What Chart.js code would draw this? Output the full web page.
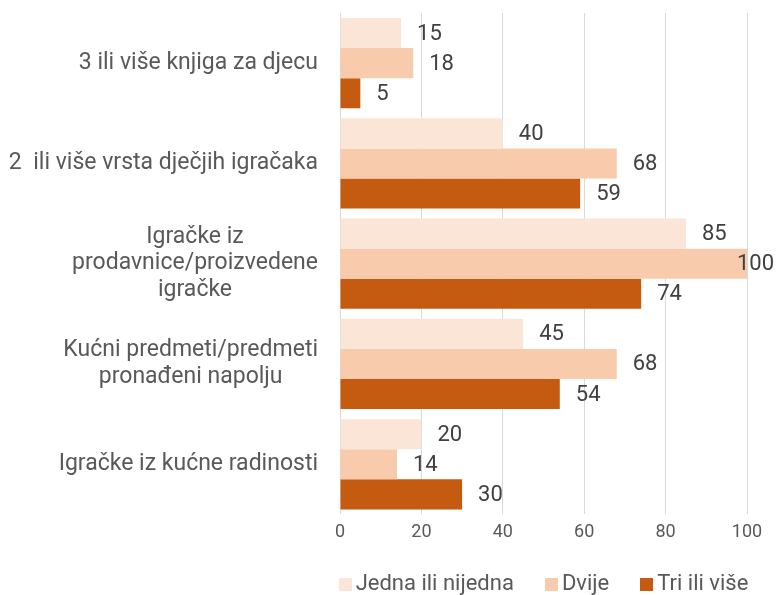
<!DOCTYPE html>
<html><head><meta charset="utf-8">
<script src="https://cdn.jsdelivr.net/npm/chart.js@4"></script>
<style>html,body{margin:0;padding:0;background:#fff}#w{width:779px;height:595px}</style>
</head><body><div id="w"><canvas id="c"></canvas></div>
<script>
const categories = [
  ["3 ili više knjiga za djecu"],
  ["2  ili više vrsta dječjih igračaka"],
  ["Igračke iz", "prodavnice/proizvedene", "igračke"],
  ["Kućni predmeti/predmeti", "pronađeni napolju"],
  ["Igračke iz kućne radinosti"]
];
const seriesNames = ["Jedna ili nijedna", "Dvije", "Tri ili više"];
const jednaIliNijedna = [15, 40, 85, 45, 20];
const dvije = [18, 68, 100, 68, 14];
const triIliVise = [5, 59, 74, 54, 30];
const xTicks = [0, 20, 40, 60, 80, 100];

const FONT = "Roboto, 'Liberation Sans', sans-serif";
const colors = ["#FBE5D6", "#F8CBAD", "#C55A11"];

const labelPlugin = {
  id: 'labels',
  afterDatasetsDraw(chart) {
    const ctx = chart.ctx;
    ctx.save();
    // data labels
    ctx.font = "22px " + FONT;
    ctx.fillStyle = "#404040";
    ctx.textBaseline = "middle";
    ctx.textAlign = "left";
    chart.data.datasets.forEach((ds, di) => {
      const meta = chart.getDatasetMeta(di);
      meta.data.forEach((el, i) => {
        const t = String(ds.data[i]);
        const w = ctx.measureText(t).width;
        let x = el.x + 16;
        if (x + w > 774) x = 774 - w;
        ctx.fillText(t, x, el.y + 1);
      });
    });
    // category labels
    const ys = chart.scales.y;
    ctx.font = "23px " + FONT;
    ctx.fillStyle = "#595959";
    ctx.textAlign = "center";
    const lh = 26.5;
    categories.forEach((lines, i) => {
      const yc = ys.getPixelForTick(i);
      let mw = 0;
      lines.forEach(l => { mw = Math.max(mw, ctx.measureText(l).width); });
      const cx = 318 - mw / 2;
      const y0 = yc - (lines.length - 1) * lh / 2;
      lines.forEach((l, k) => ctx.fillText(l, cx, y0 + k * lh));
    });
    // legend
    ctx.font = "22px " + FONT;
    ctx.textAlign = "left";
    const ca = chart.chartArea;
    const gapBox = 4, box = 13, itemGap = 31;
    const widths = seriesNames.map(n => ctx.measureText(n).width);
    let total = 0;
    widths.forEach((w, i) => { total += box + gapBox + w + (i < widths.length - 1 ? itemGap : 0); });
    let x = (ca.left + ca.right) / 2 - total / 2;
    const yc = 584;
    seriesNames.forEach((n, i) => {
      ctx.fillStyle = colors[i];
      ctx.fillRect(Math.round(x), Math.round(yc - box / 2), box, box);
      ctx.fillStyle = "#595959";
      ctx.fillText(n, x + box + gapBox, yc);
      x += box + gapBox + widths[i] + itemGap;
    });
    ctx.restore();
  }
};

new Chart(document.getElementById('c'), {
  type: 'bar',
  data: {
    labels: categories,
    datasets: [
      { label: seriesNames[0], data: jednaIliNijedna, backgroundColor: colors[0] },
      { label: seriesNames[1], data: dvije, backgroundColor: colors[1] },
      { label: seriesNames[2], data: triIliVise, backgroundColor: colors[2] }
    ]
  },
  options: {
    indexAxis: 'y',
    responsive: true,
    maintainAspectRatio: false,
    animation: false,
    datasets: { bar: { categoryPercentage: 0.9, barPercentage: 1.0, borderWidth: 0 } },
    layout: { padding: { left: 0, right: 32, top: 13, bottom: 45 } },
    scales: {
      x: {
        min: 0, max: 100,
        afterBuildTicks(s) { s.ticks = xTicks.map(v => ({ value: v })); },
        grid: { color: "#D9D9D9", lineWidth: 1, drawTicks: false },
        border: { display: false },
        ticks: { color: "#595959", font: { family: FONT, size: 18 }, padding: 7 }
      },
      y: {
        grid: { display: false },
        border: { display: false },
        ticks: { display: false },
        afterFit(s) { s.width = 340; }
      }
    },
    plugins: {
      legend: { display: false },
      tooltip: { enabled: false }
    }
  },
  plugins: [labelPlugin]
});
</script>
</body></html>
